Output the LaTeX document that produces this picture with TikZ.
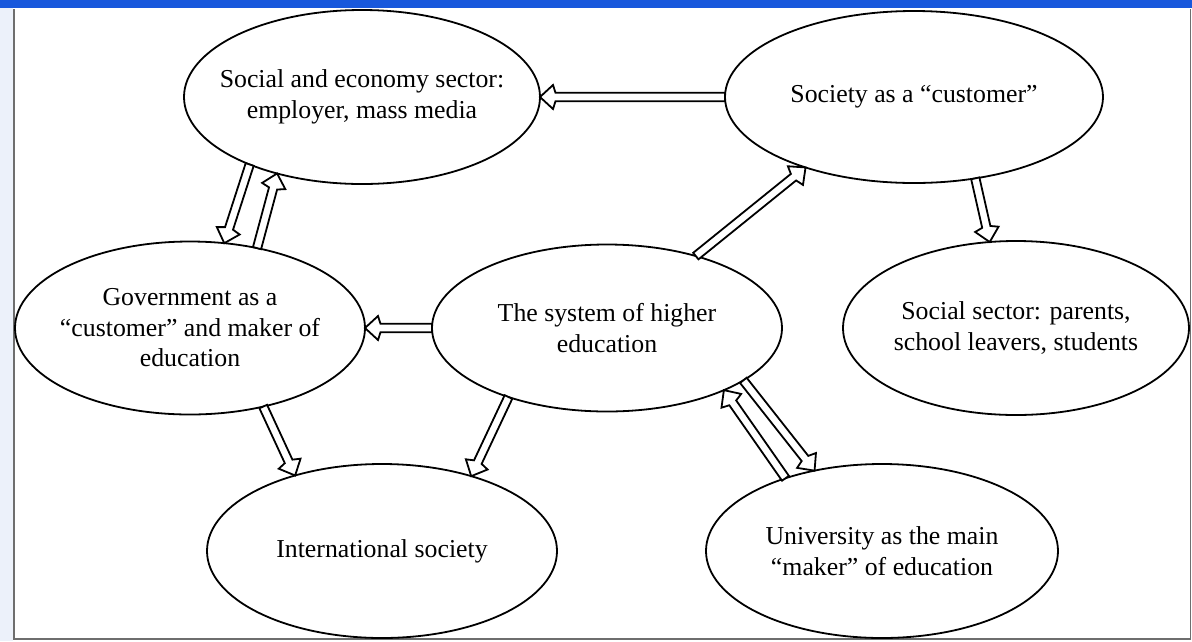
\documentclass[tikz,border=0pt]{standalone}
\usepackage{fontspec}
\setmainfont{Liberation Serif}
\usetikzlibrary{calc,shapes.geometric}

\definecolor{titlebar}{RGB}{24,88,220}
\definecolor{sidebar}{RGB}{236,241,250}
\definecolor{framegray}{RGB}{110,110,110}

\tikzset{
  bubble/.style={ellipse, draw=black, line width=1.8pt, fill=white,
                 inner sep=0pt, outer sep=0pt},
  caption/.style={align=center, inner sep=0pt,
                  font=\fontsize{25.8}{30.5}\selectfont},
  hollow/.style={draw=black, fill=white, line width=1.8pt, line join=miter},
}

% Outlined block arrow from #1 to #2: white shaft, open head with barbs
\newcommand\hollowarrow[2]{%
  \coordinate (ha-barb) at ($(#2)!13pt!(#1)$);
  \coordinate (ha-neck) at ($(#2)!15.5pt!(#1)$);
  \draw[hollow]
    ($(#1)!4.2pt!90:(#2)$) --
    ($(ha-neck)!4.2pt!-90:(#1)$) --
    ($(ha-barb)!12pt!-90:(#1)$) --
    (#2) --
    ($(ha-barb)!12pt!90:(#1)$) --
    ($(ha-neck)!4.2pt!90:(#1)$) --
    ($(#1)!4.2pt!-90:(#2)$) -- cycle;
}

\begin{document}
\begin{tikzpicture}[x=1pt, y=-1pt]
  \useasboundingbox (0,0) rectangle (1192,641);

  % window chrome around the drawing area
  \fill[white] (0,0) rectangle (1192,641);
  \fill[sidebar] (0,0) rectangle (13,641);
  \fill[titlebar] (0,0) rectangle (1192,8);
  \draw[framegray, line width=1.5pt] (14,9) -- (14,639) -- (1190.5,639) -- (1190.5,9);

  % actors
  \node[bubble, minimum width=356pt, minimum height=174pt] (econ)   at (362,97)  {};
  \node[bubble, minimum width=378pt, minimum height=172pt] (soc)    at (914,97)  {};
  \node[bubble, minimum width=350pt, minimum height=173pt] (gov)    at (190,328) {};
  \node[bubble, minimum width=350pt, minimum height=167pt] (sys)    at (607,328) {};
  \node[bubble, minimum width=346pt, minimum height=174pt] (socsec) at (1016,328) {};
  \node[bubble, minimum width=350pt, minimum height=174pt] (intl)   at (382,551) {};
  \node[bubble, minimum width=352pt, minimum height=174pt] (univ)   at (882,551) {};

  \node[caption] (econ-t)   at (econ)   {Social and economy sector:\\employer, mass media};
  \node[caption] (soc-t)    at (soc)    {Society as a “customer”};
  \node[caption] (gov-t)    at (gov)    {Government as a\\“customer” and maker of\\education};
  \node[caption] (sys-t)    at (sys)    {The system of higher\\education};
  \node[caption] (socsec-t) at (socsec) {Social sector: parents,\\school leavers, students};
  \node[caption] (intl-t)   at (intl)   {International society};
  \node[caption] (univ-t)   at (univ)   {University as the main\\“maker” of education};

  % relations
  \hollowarrow{soc.180}{econ.0}
  \hollowarrow{econ.211.3}{gov.68.7}
  \hollowarrow{gov.50.9}{econ.222.5}
  \hollowarrow{sys.180}{gov.0}
  \hollowarrow{sys.39.5}{soc.213.8}
  \hollowarrow{soc.-53.2}{socsec.107.8}
  \hollowarrow{gov.-47.6}{intl.139}
  \hollowarrow{sys.215.5}{intl.40.5}
  \hollowarrow{sys.-21.3}{univ.130.8}
  \hollowarrow{univ.143.2}{sys.-28.4}
\end{tikzpicture}
\end{document}
